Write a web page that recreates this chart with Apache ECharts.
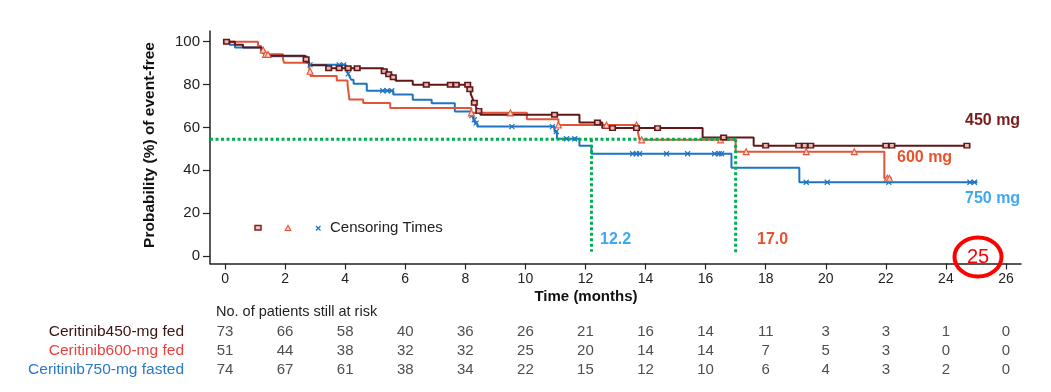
<!DOCTYPE html>
<html><head><meta charset="utf-8">
<script src="https://cdn.jsdelivr.net/npm/echarts@6/dist/echarts.min.js"></script>
<style>html,body{margin:0;padding:0;background:#fff;}#c{width:1051px;height:392px;}</style>
</head><body><div id="c"></div>
<script>
// ---- data ----
const xTicks = [0, 2, 4, 6, 8, 10, 12, 14, 16, 18, 20, 22, 24, 26];
const yTicks = [0, 20, 40, 60, 80, 100];

// Kaplan-Meier step curves (time in months, event-free %)
const t450 = [0, 0.33, 0.6, 1.22, 1.32, 1.45, 2.66, 2.72, 2.8, 3.38, 5.27, 5.4, 5.55, 5.68, 6.25, 8.1, 8.18, 8.24, 8.3, 8.36, 8.42, 8.5, 11.8, 12.56, 15.9, 17.6, 24.8];
const s450 = [100, 98.6, 97.3, 95.9, 94.5, 93.5, 91.8, 90.4, 89.0, 87.6, 86.2, 84.8, 83.4, 81.8, 79.9, 77.8, 75.7, 73.6, 71.5, 69.5, 67.7, 65.9, 62.3, 59.7, 55.3, 51.5, 51.5];

const t600 = [0, 1.1, 1.2, 1.3, 1.93, 1.96, 2.8, 2.82, 2.85, 3.72, 4.08, 4.1, 4.12, 4.14, 4.6, 5.5, 8.2, 10.05, 11.1, 13.75, 13.8, 17.0, 21.95, 22.2];
const s600 = [100, 98, 96.1, 94.1, 92.2, 90.2, 88.2, 86.2, 84.0, 81.9, 79.8, 77.6, 75.3, 73.0, 71.4, 69.1, 66.8, 63.8, 61.1, 57.6, 54.2, 48.7, 36.3, 36.3];

const t750 = [0, 0.15, 0.33, 1.2, 1.25, 1.45, 2.72, 2.76, 2.8, 4.02, 4.06, 4.1, 4.15, 4.2, 4.28, 4.72, 5.6, 6.25, 6.88, 7.65, 8.2, 8.27, 8.33, 8.4, 10.97, 11.05, 11.8, 12.2, 16.86, 19.12, 25.05];
const s750 = [100, 98.6, 97.3, 95.9, 94.6, 93.2, 91.9, 90.5, 89.2, 87.8, 86.4, 85.0, 83.6, 82.2, 80.4, 77.1, 75.4, 72.9, 71.3, 67.4, 65.5, 63.6, 62.0, 60.4, 58.1, 54.7, 51.4, 47.7, 41.2, 34.4, 34.4];

// censoring times
const c450 = [0.05, 2.7, 3.45, 3.8, 4.1, 4.4, 5.3, 5.45, 5.6, 6.7, 7.5, 7.7, 8.08, 8.15, 8.3, 8.45, 10.97, 12.4, 12.9, 13.7, 14.4, 16.6, 18.0, 19.1, 19.3, 19.5, 22.0, 22.2, 24.7];
const c600 = [1.27, 1.35, 1.43, 2.83, 8.2, 9.5, 11.1, 12.7, 13.7, 13.87, 16.5, 17.35, 19.35, 20.95, 22.05, 22.12];
const c750 = [2.83, 3.8, 3.95, 4.1, 5.25, 5.4, 5.55, 8.22, 8.3, 8.36, 9.55, 10.9, 11.03, 11.37, 11.64, 13.57, 13.7, 13.8, 14.7, 15.4, 16.3, 16.45, 16.53, 19.35, 20.05, 22.1, 24.8, 24.95];

// medians
const medianTimes = [12.2, 17.0];
const medianLabels = ['12.2', '17.0'];
const medianLevel = 54.5;
const medianBottoms = [2, 1.5];

// number at risk
const riskRows = ['Ceritinib450-mg fed', 'Ceritinib600-mg fed', 'Ceritinib750-mg fasted'];
const risk450 = [73, 66, 58, 40, 36, 26, 21, 16, 14, 11, 3, 3, 1, 0];
const risk600 = [51, 44, 38, 32, 32, 25, 20, 14, 14, 7, 5, 3, 0, 0];
const risk750 = [74, 67, 61, 38, 34, 22, 15, 12, 10, 6, 4, 3, 2, 0];

// ---- styles ----
const FONT = '"Liberation Sans", Arial, Helvetica, sans-serif';
const C450 = '#621717', C600 = '#e2553b', C750 = '#1f74c2';
const GREEN = '#00b050';
const xMin = -0.5, xMax = 26.5;

function zip(ts, ss) { return ts.map((t, i) => [t, ss[i]]); }
function survAt(ts, ss, t) { let v = ss[0]; for (let i = 0; i < ts.length; i++) if (ts[i] <= t) v = ss[i]; return v; }

const chart = echarts.init(document.getElementById('c'), null, { renderer: 'canvas' });

function kmLine(name, ts, ss, color, z) {
  return { name, type: 'line', step: 'end', data: zip(ts, ss), showSymbol: false, symbol: 'none',
    lineStyle: { color, width: 2 }, z, xAxisIndex: 0, yAxisIndex: 0, silent: true };
}
function censor(name, cs, ts, ss, symbol, size, fill, stroke, bw, z) {
  return { name, type: 'scatter', data: cs.map(t => [t, survAt(ts, ss, t)]), symbol, symbolSize: size,
    itemStyle: { color: fill, borderColor: stroke, borderWidth: bw, opacity: 1 }, z, xAxisIndex: 0, yAxisIndex: 0, silent: true };
}

const greenSeries = [];
greenSeries.push({ type: 'line', data: [[xMin, medianLevel], [Math.max(...medianTimes), medianLevel]], symbol: 'none',
  lineStyle: { color: GREEN, width: 3, type: [3, 2.5] }, z: 8, silent: true });
medianTimes.forEach((m, i) => {
  greenSeries.push({ type: 'line', data: [[m, medianLevel], [m, medianBottoms[i]]], symbol: 'none',
    lineStyle: { color: GREEN, width: 3, type: [3, 2.5] }, z: 8, silent: true });
});

const riskData = [];
[risk450, risk600, risk750].forEach((row, r) => {
  row.forEach((v, i) => riskData.push([xTicks[i], riskRows[r], v]));
});

const option = {
  animation: false,
  backgroundColor: '#ffffff',
  textStyle: { fontFamily: FONT },
  grid: [
    { left: 210, top: 31, width: 811, height: 232.5 },
    { left: 210, top: 322, width: 811, height: 57 }
  ],
  xAxis: [
    { type: 'value', gridIndex: 0, min: xMin, max: xMax,
      axisLine: { onZero: false, lineStyle: { color: '#222', width: 1.5 } },
      axisTick: { show: true, length: 6, customValues: xTicks, lineStyle: { color: '#222', width: 1.2 } },
      axisLabel: { customValues: xTicks, margin: 9, fontSize: 14, color: '#222', fontFamily: FONT },
      splitLine: { show: false } },
    { type: 'value', gridIndex: 1, min: xMin, max: xMax, show: false }
  ],
  yAxis: [
    { type: 'value', gridIndex: 0, min: -3.5, max: 105,
      axisLine: { show: true, onZero: false, lineStyle: { color: '#222', width: 1.5 } },
      axisTick: { show: true, length: 7, customValues: yTicks, lineStyle: { color: '#222', width: 1.2 } },
      axisLabel: { customValues: yTicks, margin: 10, fontSize: 15, color: '#222', fontFamily: FONT },
      splitLine: { show: false } },
    { type: 'category', gridIndex: 1, data: riskRows, inverse: true,
      axisLine: { show: false }, axisTick: { show: false }, splitLine: { show: false },
      axisLabel: { interval: 0, hideOverlap: false, margin: 26, fontSize: 15.5, fontFamily: FONT,
        formatter: (v, i) => '{r' + i + '|' + v + '}',
        rich: { r0: { color: '#3d1212', fontSize: 15.5, fontFamily: FONT },
                r1: { color: '#e8423f', fontSize: 15.5, fontFamily: FONT },
                r2: { color: '#2a78c6', fontSize: 15.5, fontFamily: FONT } } } }
  ],
  series: [
    kmLine('750 mg', t750, s750, C750, 3),
    kmLine('600 mg', t600, s600, C600, 4),
    kmLine('450 mg', t450, s450, C450, 5),
    ...greenSeries,
    censor('c750', c750, t750, s750, 'path://M0,0L10,10M10,0L0,10', 5, 'rgba(0,0,0,0)', C750, 1.2, 9),
    censor('c600', c600, t600, s600, 'triangle', 6, '#fbd6cc', C600, 1.1, 9),
    censor('c450', c450, t450, s450, 'rect', [5.5, 4.5], '#e8b8b8', C450, 1.5, 10),
    { type: 'scatter', xAxisIndex: 1, yAxisIndex: 1, data: riskData, symbolSize: 1,
      itemStyle: { color: 'rgba(0,0,0,0)' }, silent: true,
      label: { show: true, position: 'inside', formatter: p => String(p.data[2]), fontSize: 15, color: '#222', fontFamily: FONT } }
  ],
  graphic: [
    { type: 'text', x: 150, y: 145, rotation: Math.PI / 2,
      style: { text: 'Probability (%) of event-free', font: 'bold 15.5px ' + FONT, fill: '#111', align: 'center', verticalAlign: 'middle' } },
    { type: 'text', x: 586, y: 297,
      style: { text: 'Time (months)', font: 'bold 15px ' + FONT, fill: '#111', align: 'center', verticalAlign: 'middle' } },
    { type: 'text', x: 216, y: 312,
      style: { text: 'No. of patients still at risk', font: '14.5px ' + FONT, fill: '#222', align: 'left', verticalAlign: 'middle' } },
    // legend
    { type: 'rect', shape: { x: 255, y: 225.5, width: 6, height: 4.5 }, style: { fill: '#f0c9c9', stroke: '#8b1c1c', lineWidth: 1.5 } },
    { type: 'polygon', shape: { points: [[285.2, 230.5], [290.8, 230.5], [288, 225.5]] }, style: { fill: '#fbd6cc', stroke: C600, lineWidth: 1.1 } },
    { type: 'line', shape: { x1: 316, y1: 226, x2: 320.5, y2: 230.5 }, style: { stroke: C750, lineWidth: 1.2 } },
    { type: 'line', shape: { x1: 320.5, y1: 226, x2: 316, y2: 230.5 }, style: { stroke: C750, lineWidth: 1.2 } },
    { type: 'text', x: 330, y: 228,
      style: { text: 'Censoring Times', font: '15px ' + FONT, fill: '#222', align: 'left', verticalAlign: 'middle' } },
    // curve labels
    { type: 'text', x: 965, y: 121, style: { text: '450 mg', font: 'bold 16px ' + FONT, fill: '#7a1c1c', align: 'left', verticalAlign: 'middle' } },
    { type: 'text', x: 897, y: 158, style: { text: '600 mg', font: 'bold 16px ' + FONT, fill: '#e8522c', align: 'left', verticalAlign: 'middle' } },
    { type: 'text', x: 965, y: 199, style: { text: '750 mg', font: 'bold 16px ' + FONT, fill: '#3ea8f2', align: 'left', verticalAlign: 'middle' } },
    { type: 'text', x: 600, y: 240, style: { text: medianLabels[0], font: 'bold 16px ' + FONT, fill: '#3ea8f2', align: 'left', verticalAlign: 'middle' } },
    { type: 'text', x: 757, y: 240, style: { text: medianLabels[1], font: 'bold 16px ' + FONT, fill: '#e8522c', align: 'left', verticalAlign: 'middle' } },
    // circled annotation
    { type: 'ellipse', shape: { cx: 978, cy: 257, rx: 23.5, ry: 19.5 }, style: { fill: 'none', stroke: '#ff0000', lineWidth: 4 }, z: 20 },
    { type: 'text', x: 978, y: 257, z: 21, style: { text: '25', font: '20px ' + FONT, fill: '#ff0000', align: 'center', verticalAlign: 'middle' } }
  ]
};
chart.setOption(option);
</script>
</body></html>
